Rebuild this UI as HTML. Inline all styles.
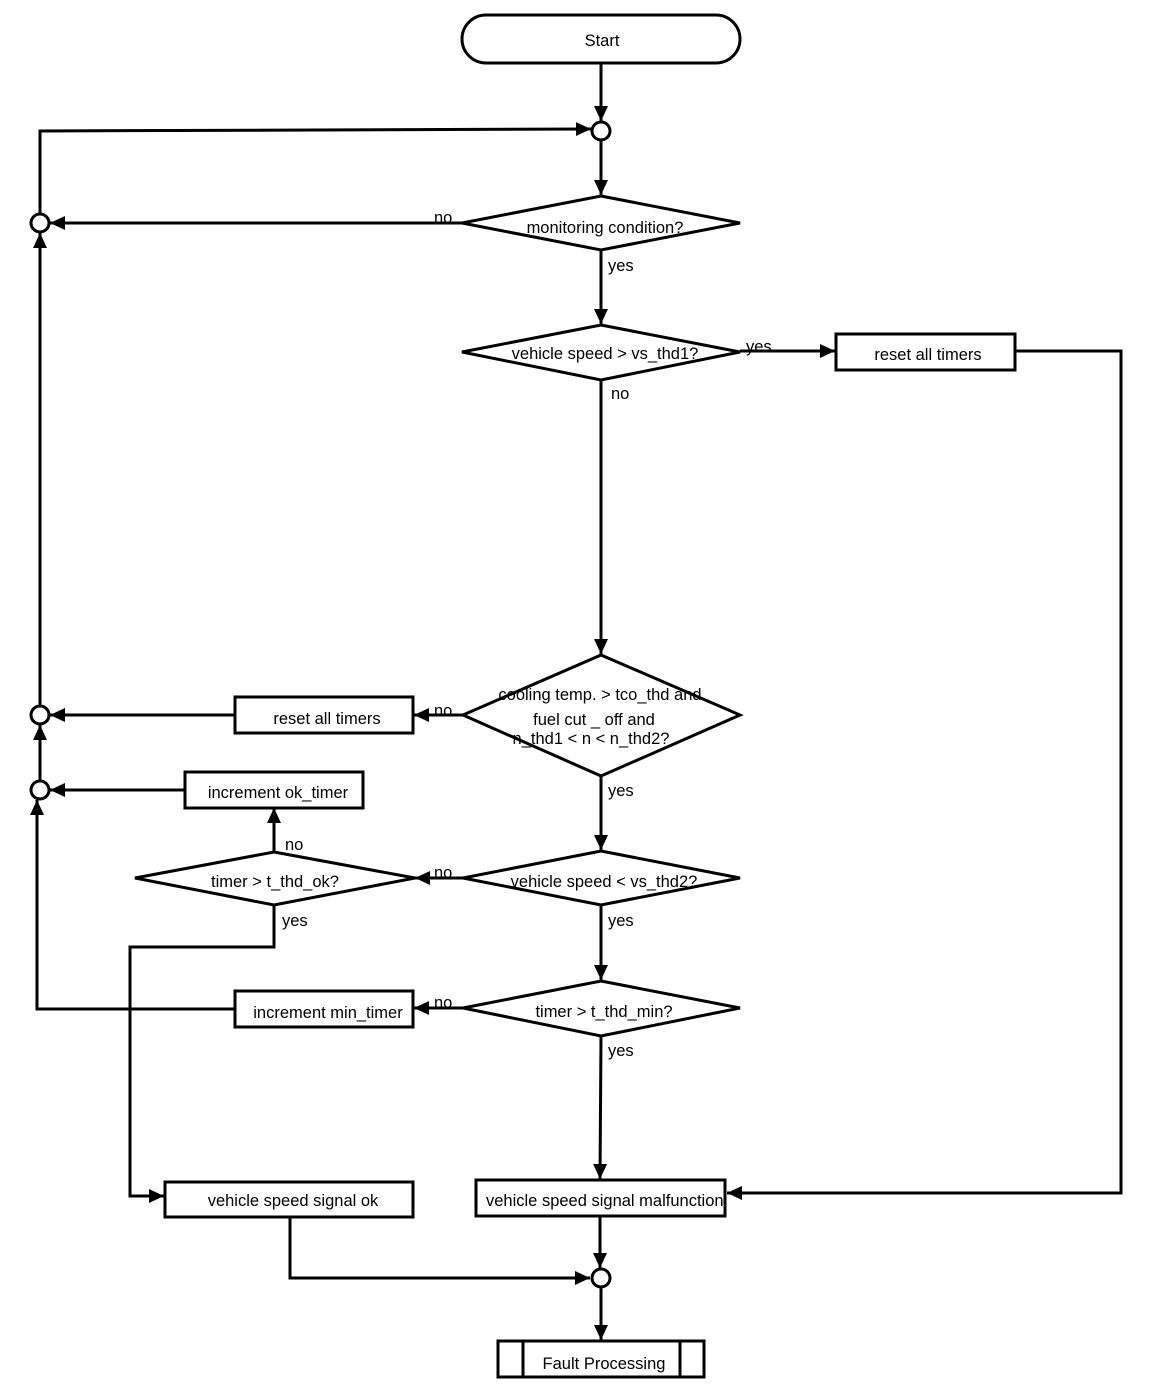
<!DOCTYPE html>
<html><head><meta charset="utf-8"><style>
html,body{margin:0;padding:0;background:#fff}
svg{display:block}
text{font-family:"Liberation Sans",Arial,sans-serif;font-size:16.5px;fill:#000}
</style></head><body>
<svg width="1152" height="1394" viewBox="0 0 1152 1394" xmlns="http://www.w3.org/2000/svg">
<defs>
<marker id="a" markerUnits="userSpaceOnUse" markerWidth="16" markerHeight="16" refX="15" refY="8" orient="auto">
<polygon points="0,1 15,8 0,15" fill="#000"/></marker>
</defs>
<g stroke="#000" stroke-width="3" fill="none">
<rect x="462" y="15" width="278" height="48" rx="24" fill="#fff"/>
<line x1="601" y1="63" x2="601" y2="121" marker-end="url(#a)"/>
<circle cx="601" cy="131" r="9" fill="#fff"/>
<line x1="601" y1="140" x2="601" y2="195" marker-end="url(#a)"/>
<polygon points="601,196 740,223 601,250 462,223" fill="#fff"/>
<line x1="462" y1="223" x2="50" y2="223" marker-end="url(#a)"/>
<circle cx="40" cy="223" r="9" fill="#fff"/>
<polyline points="40,214 40,131 591,129" marker-end="url(#a)"/>
<line x1="601" y1="250" x2="601" y2="324" marker-end="url(#a)"/>
<polygon points="601,325 740,352 601,380 462,352" fill="#fff"/>
<line x1="740" y1="351" x2="835" y2="351" marker-end="url(#a)"/>
<rect x="836" y="334" width="179" height="36" fill="#fff"/>
<polyline points="1015,351 1121,351 1121,1193 727,1193" marker-end="url(#a)"/>
<line x1="601" y1="380" x2="601" y2="654" marker-end="url(#a)"/>
<polygon points="601,655 740,715 601,776 463,715" fill="#fff"/>
<line x1="463" y1="715" x2="414" y2="715" marker-end="url(#a)"/>
<rect x="235" y="697" width="178" height="36" fill="#fff"/>
<line x1="235" y1="715" x2="50" y2="715" marker-end="url(#a)"/>
<circle cx="40" cy="715" r="9" fill="#fff"/>
<line x1="40" y1="706" x2="40" y2="233" marker-end="url(#a)"/>
<line x1="601" y1="776" x2="601" y2="850" marker-end="url(#a)"/>
<polygon points="601,851 740,878 601,905 463,878" fill="#fff"/>
<line x1="463" y1="878" x2="415" y2="878" marker-end="url(#a)"/>
<polygon points="274,852 415,878 274,905 135,878" fill="#fff"/>
<line x1="274" y1="852" x2="274" y2="808" marker-end="url(#a)"/>
<rect x="185" y="772" width="178" height="36" fill="#fff"/>
<line x1="185" y1="790" x2="50" y2="790" marker-end="url(#a)"/>
<circle cx="40" cy="790" r="9" fill="#fff"/>
<line x1="40" y1="781" x2="40" y2="725" marker-end="url(#a)"/>
<polyline points="274,905 274,947 130,947 130,1196 164,1196" marker-end="url(#a)"/>
<line x1="601" y1="905" x2="601" y2="980" marker-end="url(#a)"/>
<polygon points="601,981 740,1008 601,1036 463,1008" fill="#fff"/>
<line x1="463" y1="1008" x2="414" y2="1008" marker-end="url(#a)"/>
<rect x="235" y="991" width="178" height="36" fill="#fff"/>
<polyline points="235,1009 37,1009 37,800" marker-end="url(#a)"/>
<line x1="601" y1="1036" x2="600" y2="1179" marker-end="url(#a)"/>
<rect x="476" y="1180" width="249" height="36" fill="#fff"/>
<rect x="165" y="1182" width="248" height="35" fill="#fff"/>
<line x1="600" y1="1216" x2="600" y2="1268" marker-end="url(#a)"/>
<polyline points="290,1217 290,1278 590,1278" marker-end="url(#a)"/>
<circle cx="601" cy="1278" r="9" fill="#fff"/>
<line x1="601" y1="1287" x2="601" y2="1340" marker-end="url(#a)"/>
<rect x="498" y="1341" width="206" height="36" fill="#fff"/>
<line x1="523" y1="1341" x2="523" y2="1377"/>
<line x1="680" y1="1341" x2="680" y2="1377"/>
</g>
<text x="602" y="46" text-anchor="middle">Start</text>
<text x="605" y="233" text-anchor="middle">monitoring condition?</text>
<text x="434" y="223">no</text>
<text x="608" y="271">yes</text>
<text x="605" y="359" text-anchor="middle">vehicle speed &gt; vs_thd1?</text>
<text x="746" y="352">yes</text>
<text x="928" y="360" text-anchor="middle">reset all timers</text>
<text x="611" y="399">no</text>
<text x="600" y="700" text-anchor="middle">cooling temp. &gt; tco_thd and</text>
<text x="594" y="725" text-anchor="middle">fuel cut  _  off and</text>
<text x="591" y="744" text-anchor="middle">n_thd1 &lt; n &lt; n_thd2?</text>
<text x="434" y="716">no</text>
<text x="327" y="724" text-anchor="middle">reset all timers</text>
<text x="608" y="796">yes</text>
<text x="278" y="798" text-anchor="middle">increment ok_timer</text>
<text x="285" y="850">no</text>
<text x="275" y="887" text-anchor="middle">timer &gt; t_thd_ok?</text>
<text x="282" y="926">yes</text>
<text x="434" y="878">no</text>
<text x="604" y="887" text-anchor="middle">vehicle speed &lt; vs_thd2?</text>
<text x="608" y="926">yes</text>
<text x="604" y="1017" text-anchor="middle">timer &gt; t_thd_min?</text>
<text x="434" y="1008">no</text>
<text x="328" y="1018" text-anchor="middle">increment min_timer</text>
<text x="608" y="1056">yes</text>
<text x="486" y="1206">vehicle speed signal malfunction</text>
<text x="293" y="1206" text-anchor="middle">vehicle speed signal ok</text>
<text x="604" y="1369" text-anchor="middle">Fault Processing</text>
</svg>
</body></html>
